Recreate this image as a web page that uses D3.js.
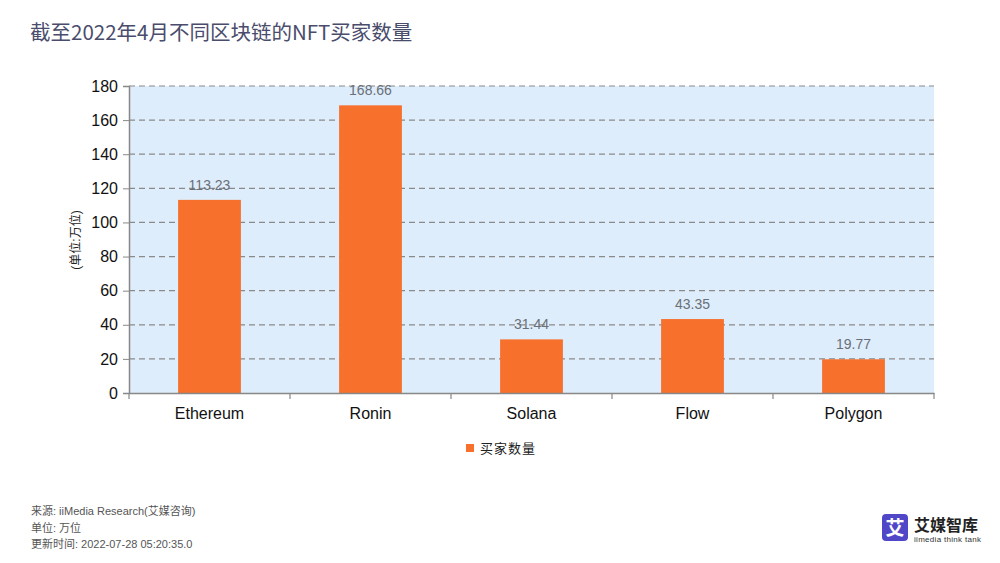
<!DOCTYPE html>
<html><head><meta charset="utf-8">
<script src="https://cdn.jsdelivr.net/npm/d3@7"></script>
<style>body{margin:0;background:#fff;} svg{display:block;font-family:"Liberation Sans",Arial,"Noto Sans CJK SC",sans-serif;}</style>
</head><body>
<svg id="c" width="1000" height="563"></svg>
<script>
const categories = ["Ethereum","Ronin","Solana","Flow","Polygon"];
const values = [113.23,168.66,31.44,43.35,19.77];
const yTicks = [0,20,40,60,80,100,120,140,160,180];
const seriesName = "买家数量";
const title = "截至2022年4月不同区块链的NFT买家数量";
const footer = ["来源: iiMedia Research(艾媒咨询)","单位: 万位","更新时间: 2022-07-28 05:20:35.0"];

const svg = d3.select("#c");
const m = {l:129, r:934, t:86, b:393};
const x = d3.scaleBand().domain(categories).range([m.l,m.r]);
const y = d3.scaleLinear().domain([0,180]).range([m.b,m.t]);

svg.append("text").attr("x",30).attr("y",40).attr("font-size",20.5).attr("fill","#4a4c6c")
  .attr("font-family","'Noto Sans CJK SC',sans-serif").text(title);

svg.append("rect").attr("x",m.l).attr("y",m.t).attr("width",m.r-m.l).attr("height",m.b-m.t).attr("fill","#deedfb");

// grid
svg.append("g").selectAll("line").data(yTicks.filter(d=>d>0)).join("line")
  .attr("x1",m.l).attr("x2",m.r).attr("y1",d=>y(d)).attr("y2",d=>y(d))
  .attr("stroke","#8a8a8a").attr("stroke-dasharray","6,4").attr("stroke-width",1.2);

// bars
const bw = x.bandwidth()*0.39;
svg.append("g").selectAll("rect").data(values).join("rect")
  .attr("x",(d,i)=>x(categories[i])+x.bandwidth()/2-bw/2)
  .attr("y",d=>y(d)).attr("width",bw).attr("height",d=>m.b-y(d))
  .attr("fill","#f7702c");

svg.append("g").selectAll("text").data(values).join("text")
  .attr("x",(d,i)=>x(categories[i])+x.bandwidth()/2).attr("y",d=>y(d)-10)
  .attr("text-anchor","middle").attr("font-size",14).attr("fill","#6b6f78").text(d=>d);

// y axis
const ya = svg.append("g").attr("transform",`translate(${m.l},0)`)
  .call(d3.axisLeft(y).tickValues(yTicks).tickSize(6).tickPadding(5));
ya.select(".domain").attr("stroke","#888").attr("stroke-width",1.5);
ya.selectAll(".tick line").attr("stroke","#888");
ya.selectAll("text").attr("font-size",16).attr("fill","#111").attr("font-family","'Liberation Sans',Arial,sans-serif");

// x axis
const xa = svg.append("g").attr("transform",`translate(0,${m.b})`)
  .call(d3.axisBottom(x).tickSize(0).tickPadding(15));
xa.select(".domain").attr("stroke","#888").attr("stroke-width",1.5);
xa.selectAll("text").attr("font-size",16).attr("fill","#111").attr("font-family","'Liberation Sans',Arial,sans-serif");
const bounds = categories.map(c=>x(c)).concat([m.r]);
svg.append("g").selectAll("line").data(bounds).join("line")
  .attr("x1",d=>d).attr("x2",d=>d).attr("y1",m.b).attr("y2",m.b+6).attr("stroke","#888").attr("stroke-width",1.2);

svg.append("text").attr("transform","translate(80,240) rotate(-90)").attr("text-anchor","middle")
  .attr("font-size",12).attr("fill","#222").text("(单位:万位)");

// legend
svg.append("rect").attr("x",466).attr("y",444).attr("width",8).attr("height",8).attr("fill","#f7702c");
svg.append("text").attr("x",480).attr("y",453).attr("font-size",13).attr("fill","#222").attr("letter-spacing",1).text(seriesName);

// footer
svg.append("g").selectAll("text").data(footer).join("text")
  .attr("x",31).attr("y",(d,i)=>515+i*16.5).attr("font-size",11).attr("fill","#555").text(d=>d);

// logo
svg.append("rect").attr("x",882).attr("y",514).attr("width",26).attr("height",27).attr("rx",4).attr("fill","#4f47c7");
svg.append("text").attr("x",895).attr("y",535).attr("text-anchor","middle").attr("font-size",19).attr("font-weight","bold").attr("fill","#fff").attr("font-family","'Noto Sans CJK SC',sans-serif").text("艾");
svg.append("text").attr("x",914).attr("y",531).attr("font-size",16).attr("font-weight","bold").attr("fill","#222").attr("font-family","'Noto Sans CJK SC',sans-serif").text("艾媒智库");
svg.append("text").attr("x",914).attr("y",542).attr("font-size",8).attr("fill","#333").attr("letter-spacing",0.3).text("iimedia think tank");
</script>
</body></html>
